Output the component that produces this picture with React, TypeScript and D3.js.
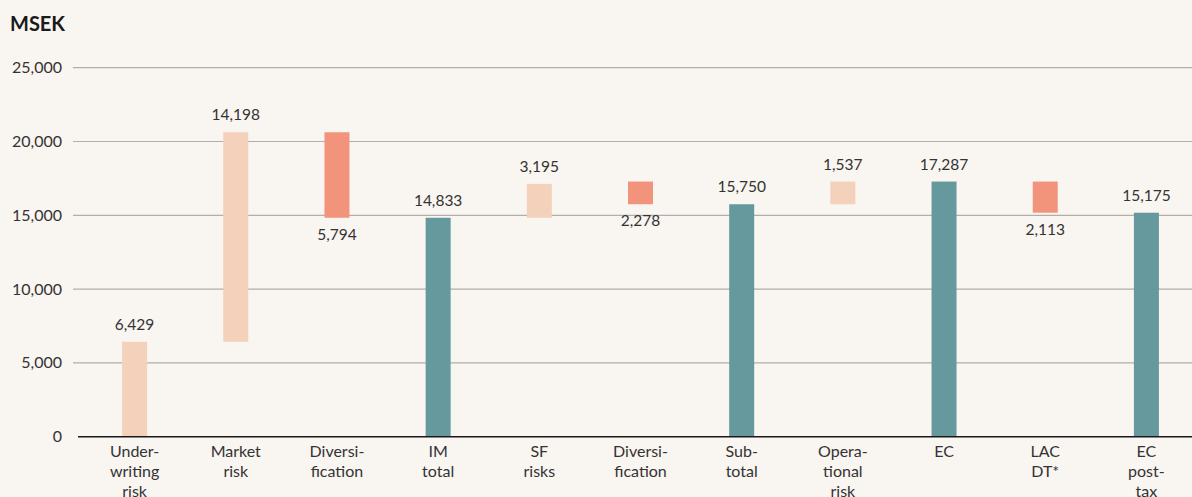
import * as d3 from "d3";

const categories = [
  ["Under-", "writing", "risk"],
  ["Market", "risk"],
  ["Diversi-", "fication"],
  ["IM", "total"],
  ["SF", "risks"],
  ["Diversi-", "fication"],
  ["Sub-", "total"],
  ["Opera-", "tional", "risk"],
  ["EC"],
  ["LAC", "DT*"],
  ["EC", "post-", "tax"],
];
// shown value of each step
const stepValues = [6429, 14198, 5794, 14833, 3195, 2278, 15750, 1537, 17287, 2113, 15175];
// kind of step: up = added risk, down = reduction, total
const stepKinds = ["up", "up", "down", "total", "up", "down", "total", "up", "total", "down", "total"];
// bar ends (MSEK)
const barLow = [0, 6429, 14833, 0, 14833, 15750, 0, 15750, 0, 15175, 0];
const barHigh = [6429, 20627, 20627, 14833, 17130, 17287, 15750, 17287, 17287, 17287, 15175];
const yTicks = [0, 5000, 10000, 15000, 20000, 25000];

const W = 1192;
const H = 497;
const FONT = "Lato, 'Open Sans', sans-serif";
const colors: Record<string, string> = { up: "#F3D1BA", down: "#F2947C", total: "#66999D" };

export default function App() {
  const x = d3.scaleBand<number>().domain(d3.range(categories.length)).range([84, 1197]).padding(0);
  const y = d3.scaleLinear().domain([0, 25000]).range([436.7, 67.7]);
  const fmt = d3.format(",");
  const barW = 25;

  return (
    <div style={{ position: "fixed", inset: 0, background: "#F9F5F1" }}>
      <svg width={W} height={H} style={{ display: "block" }} fontFamily={FONT}>
        <text x={10} y={31} fontSize={20} fontWeight={700} fill="#1a1a1a">MSEK</text>

        {yTicks.map((t) => (
          <g key={t}>
            {t > 0 && <line x1={73} x2={W} y1={y(t)} y2={y(t)} stroke="#B3AEA9" strokeWidth={1.2} />}
            <text x={62} y={y(t) - 1} textAnchor="end" dominantBaseline="central" fontSize={16} fill="#333">
              {fmt(t)}
            </text>
          </g>
        ))}

        {categories.map((c, i) => {
          const cx = x(i)! + x.bandwidth() / 2;
          const top = y(barHigh[i]);
          const bottom = y(barLow[i]);
          const kind = stepKinds[i];
          return (
            <g key={i}>
              <rect x={cx - barW / 2} y={top} width={barW} height={bottom - top} fill={colors[kind]} />
              <text
                x={cx}
                y={kind === "down" ? bottom + 22 : top - 12}
                textAnchor="middle"
                fontSize={15.5}
                fill="#333"
              >
                {fmt(stepValues[i])}
              </text>
              {c.map((line, j) => (
                <text key={j} x={cx} y={457 + j * 20} textAnchor="middle" fontSize={16} fill="#333">
                  {line}
                </text>
              ))}
            </g>
          );
        })}

        <line x1={78} x2={W} y1={y(0)} y2={y(0)} stroke="#1a1a1a" strokeWidth={1.6} />
      </svg>
    </div>
  );
}
